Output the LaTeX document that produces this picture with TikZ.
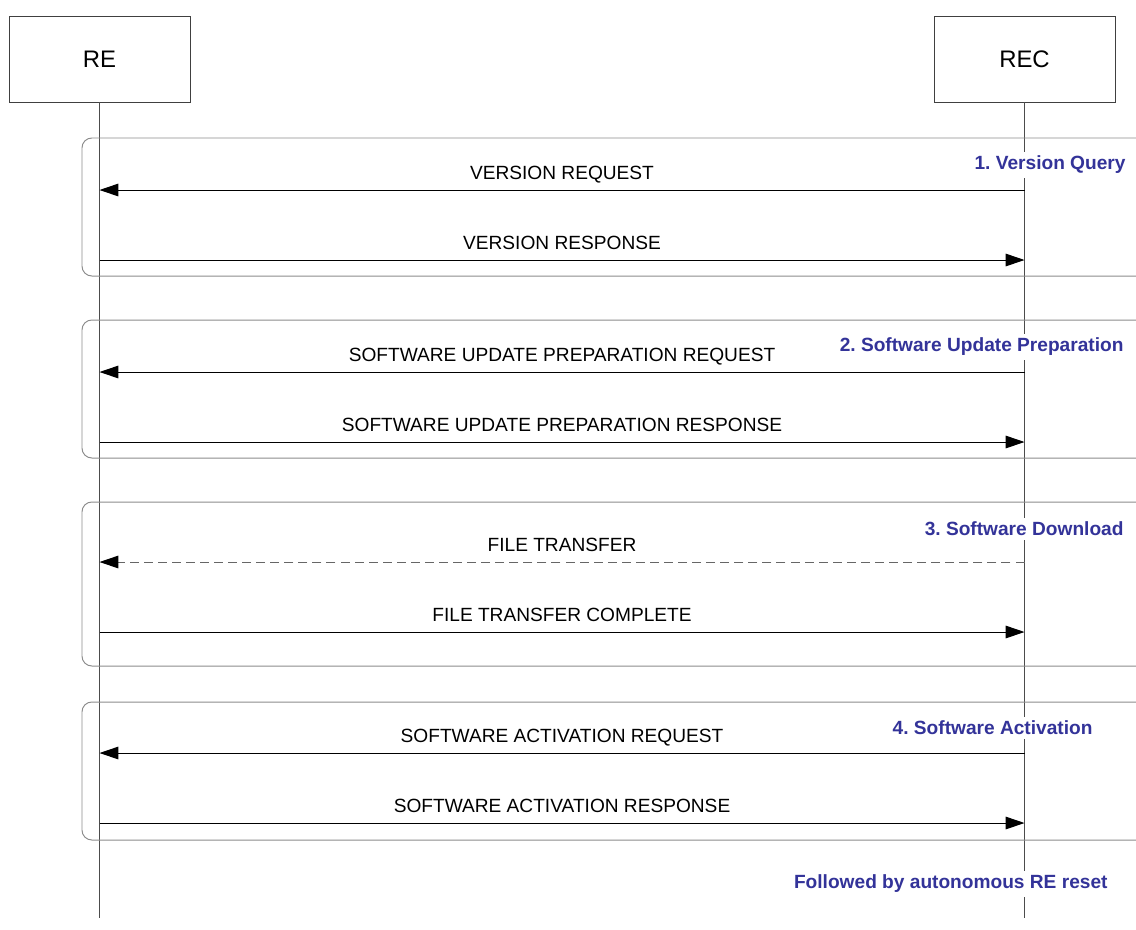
\documentclass[tikz,border=0pt]{standalone}
\usepackage{fontspec}
\setmainfont{Liberation Sans}
\usepackage{tikz}
\usetikzlibrary{arrows.meta,positioning}
\frenchspacing
\definecolor{phaseblue}{RGB}{51,51,153}
\tikzstyle{entity} = [rectangle, minimum width=4.525cm, minimum height=2.15cm, draw=black!75, line width=0.6pt, font=\fontsize{17}{20}\selectfont]
\tikzstyle{lifeline} = [draw=black!70, line width=0.8pt]
\tikzstyle{frame} = [draw=black!45, line width=0.7pt, rounded corners=7pt]
\tikzstyle{arrow} = [black, line width=0.7pt, -{Triangle[length=13.5pt,width=9pt]}]
\tikzstyle{dasharrow} = [line width=0.7pt, draw=black!60, dash pattern=on 6.4pt off 3.6pt, -{Triangle[length=13.5pt,width=9pt,color=black]}]
\tikzstyle{msg} = [midway, anchor=base, yshift=7.8pt, inner sep=0pt, text=black, font=\fontsize{13.6}{16}\selectfont]
\tikzstyle{phase} = [anchor=east, fill=white, inner sep=3pt, text=phaseblue, font=\bfseries\fontsize{13.6}{16}\selectfont]

\begin{document}
\begin{tikzpicture}[x=0.025cm, y=-0.025cm]
\useasboundingbox (0,0) rectangle (1136,929);
\node (re) [entity] at (99.5,59) {RE};
\node (rec) [entity] at (1024.5,59) {REC};
\coordinate (reEnd) at (99.5,918);
\coordinate (recEnd) at (1024.5,918);
\draw [lifeline] (re) -- (reEnd);
\draw [lifeline] (rec) -- (recEnd);

% phase frames
\draw [frame] (1136,138) -| (82,276) -- (1136,276);
\draw [frame] (1136,320) -| (82,458) -- (1136,458);
\draw [frame] (1136,502) -| (82,666) -- (1136,666);
\draw [frame] (1136,702) -| (82,840) -- (1136,840);

% message rows
\coordinate (r1) at (0,190);
\coordinate (r2) at (0,260);
\coordinate (r3) at (0,372);
\coordinate (r4) at (0,442);
\coordinate (r5) at (0,562);
\coordinate (r6) at (0,632);
\coordinate (r7) at (0,753);
\coordinate (r8) at (0,823);

\draw [arrow] (rec |- r1) -- node[msg] {VERSION REQUEST} (re |- r1);
\draw [arrow] (re |- r2) -- node[msg] {VERSION RESPONSE} (rec |- r2);
\draw [arrow] (rec |- r3) -- node[msg] {SOFTWARE UPDATE PREPARATION REQUEST} (re |- r3);
\draw [arrow] (re |- r4) -- node[msg] {SOFTWARE UPDATE PREPARATION RESPONSE} (rec |- r4);
\draw [dasharrow] (rec |- r5) -- node[msg] {FILE TRANSFER} (re |- r5);
\draw [arrow] (re |- r6) -- node[msg] {FILE TRANSFER COMPLETE} (rec |- r6);
\draw [arrow] (rec |- r7) -- node[msg] {SOFTWARE ACTIVATION REQUEST} (re |- r7);
\draw [arrow] (re |- r8) -- node[msg] {SOFTWARE ACTIVATION RESPONSE} (rec |- r8);

% phase labels
\node (p1) [phase] at (1130,165) {1. Version Query};
\node (p2) [phase] at (1128,347) {2. Software Update Preparation};
\node (p3) [phase] at (1128,529) {3. Software Download};
\node (p4) [phase] at (1097,728) {4. Software Activation};
\node (reset) [phase] at (1112,884) {Followed by autonomous RE reset};
\end{tikzpicture}
\end{document}
